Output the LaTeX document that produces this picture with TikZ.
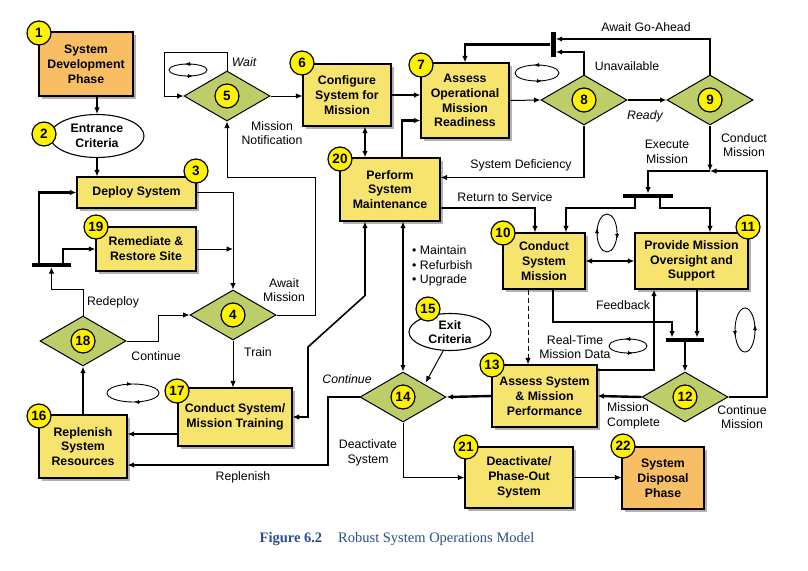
\documentclass[tikz,border=0pt]{standalone}
\usepackage{fontspec}
\setmainfont{Liberation Sans}
\newfontfamily\capfont{Liberation Serif}
\usetikzlibrary{shapes.geometric,arrows.meta,shadows}
\definecolor{boxy}{HTML}{F6E46E}
\definecolor{boxo}{HTML}{F8BE64}
\definecolor{dgreen}{HTML}{BCCD6A}
\definecolor{bdg}{HTML}{FFF200}
\definecolor{capblue}{HTML}{2D4D8E}
\newcommand{\bxfont}{\fontsize{12.3}{14.8}\selectfont\bfseries}
\newcommand{\lbfont}{\fontsize{12.3}{14.5}\selectfont}
\tikzset{
 box/.style={draw, line width=1.1pt, fill=boxy, align=center, font=\bxfont, inner sep=0pt,
   drop shadow={shadow xshift=2.5pt, shadow yshift=-2.5pt, opacity=0.55, fill=black!55}},
 obox/.style={box, fill=boxo},
 dia/.style={diamond, draw, line width=1pt, fill=dgreen, inner sep=0pt, minimum width=86pt, minimum height=50pt},
 crit/.style={ellipse, draw, line width=1.1pt, fill=white, inner sep=0pt},
 badge/.style={circle, draw, line width=1.2pt, fill=bdg, minimum size=24pt, inner sep=0pt, font=\fontsize{13.5}{14}\selectfont\bfseries},
 bar/.style={fill=black, inner sep=0pt},
 lbl/.style={align=center, font=\lbfont, inner sep=0pt},
 tip/.style={-{Latex[length=6.5pt,width=5.5pt]}},
 tk/.style={line width=2.4pt, tip},
 md/.style={line width=1.6pt, tip},
 tn/.style={line width=1pt, tip},
 dbl/.style={arrows={Latex[length=6.5pt,width=5.5pt]}-{Latex[length=6.5pt,width=5.5pt]}},
 icon/.style={line width=0.9pt},
 itip/.style={line width=0.8pt, -{Latex[length=5pt,width=4pt]}},
}
\begin{document}
\begin{tikzpicture}[x=1pt,y=-1pt]
\fill[white] (0,0) rectangle (808,570);
\useasboundingbox (0,0) rectangle (808,570);

% boxes
\node[obox, minimum width=94pt, minimum height=64pt] (b1) at (86,64) {System\\Development\\Phase};
\node[crit, minimum width=94pt, minimum height=43pt] (e2) at (97,136) {};
\node[lbl, font=\bxfont] at (e2) {Entrance\\Criteria};
\node[box, minimum width=119pt, minimum height=31pt] (b3) at (136.5,192.5) {Deploy System};
\node[box, minimum width=100pt, minimum height=44pt] (b19) at (146,249) {Remediate \&\\Restore Site};
\node[box, minimum width=88pt, minimum height=62pt] (b6) at (347,95) {Configure\\System for\\Mission};
\node[box, minimum width=88pt, minimum height=75pt] (b7) at (465,100.5) {Assess\\Operational\\Mission\\Readiness};
\node[box, minimum width=100pt, minimum height=63pt] (b20) at (390,189.5) {Perform\\System\\Maintenance};
\node[box, minimum width=82pt, minimum height=56pt] (b10) at (544,261) {Conduct\\System\\Mission};
\node[box, minimum width=113pt, minimum height=56pt] (b11) at (691.5,261) {Provide Mission\\Oversight and\\Support};
\node[box, minimum width=105pt, minimum height=62pt] (b13) at (544.5,396) {Assess System\\\& Mission\\Performance};
\node[box, minimum width=88pt, minimum height=63pt] (b16) at (83,446.5) {Replenish\\System\\Resources};
\node[box, minimum width=114pt, minimum height=58pt] (b17) at (235,417) {Conduct System/\\Mission Training};
\node[box, minimum width=108pt, minimum height=61pt] (b21) at (519,477.5) {Deactivate/\\Phase-Out\\System};
\node[obox, minimum width=82pt, minimum height=62pt] (b22) at (663,478) {System\\Disposal\\Phase};
\node[crit, minimum width=82pt, minimum height=37pt] (e15) at (450,332) {};
\node[lbl, font=\bxfont] at (e15) {Exit\\Criteria};

% diamonds
\node[dia] (d4) at (233,315) {};
\node[dia] (d5) at (227,96) {};
\node[dia] (d8) at (584,100) {};
\node[dia] (d9) at (710,100) {};
\node[dia] (d12) at (685,397) {};
\node[dia] (d14) at (403,397) {};
\node[dia] (d18) at (83,341) {};

% bars
\node[bar, minimum width=39pt, minimum height=4pt] (barL) at (51.5,265) {};
\node[bar, minimum width=5pt, minimum height=25pt] (barT) at (553,44.5) {};
\node[bar, minimum width=50pt, minimum height=4.5pt] (barF) at (648,196) {};
\node[bar, minimum width=38pt, minimum height=4.5pt] (barJ) at (685,340) {};
\coordinate (jn) at (710,171);

% connectors
\draw[tk] (b1.south -| e2.north) -- (e2.north);
\draw[tk] (e2.south) -- (e2.south |- b3.north);
\draw[tk] ([xshift=7pt]barL.north west) |- (b3.west);
\draw[md] ([xshift=31pt]barL.north west) |- (b19.west);
\draw[tn] (d18.north) -- (83,289) -| (barL.south);
\draw[tn] (b3.east) -| (d4.north);
\draw[tn] (b19.east) -- (b19.east -| d4.north);
\draw[tn] (d4.east) -| (315,177) -| (d5.south);
\draw[tn] (d4.south) -- (d4.south |- b17.north);
\draw[tn] (d5.north) |- (164,52) |- (d5.west);
\draw[tn] (d5.east) -- (d5.east -| b6.west);
\draw[tk] (b6.east) -- (b6.east -| b7.west);
\draw[md, dbl] ([xshift=18pt]b6.south) -- ([xshift=18pt]b6.south |- b20.north);
\draw[tk] ([xshift=12pt]b20.north) |- ([yshift=-20pt]b7.west);
\draw[tn] (b7.east) -- (d8.west);
\draw[tk] (d8.east) -- (d9.west);
\draw[tk] (d8.north) |- ([yshift=-7.5pt]barT.east);
\draw[md] (d9.north) |- ([yshift=5.5pt]barT.east);
\draw[tk] (barT.west) -| (b7.north);
\draw[md] (d8.south) |- ([yshift=12pt]b20.east);
\draw[tk] (d9.south) -- (jn);
\draw[tk] (d12.east) -| (767,171) -- (jn);
\draw[tk] (jn) -| (barF.north);
\draw[tk] ([xshift=-13pt]barF.south) |- (566,208) -- ([xshift=22pt]b10.north);
\draw[tk] ([xshift=12pt]barF.south) |- (710,208) -- ([xshift=18.5pt]b11.north);
\draw[tk] ([yshift=-18.5pt]b20.east) -| ([xshift=-9pt]b10.north);
\draw[md, dbl] (b10.east) -- (b11.west);
\draw[tn, dash pattern=on 5pt off 3pt] ([xshift=-16pt]b10.south) -- ([xshift=-16pt]b10.south |- b13.north);
\draw[tk] ([xshift=9pt]b10.south) |- (672,322) -- ([xshift=-13pt]barJ.north);
\draw[tk] ([xshift=5.5pt]b11.south) -- ([xshift=5.5pt]b11.south |- barJ.north);
\draw[tk] (barJ.south) -- (d12.north);
\draw[tk] ([yshift=26pt]b13.east) -| ([xshift=-37.5pt]b11.south);
\draw[tk] (d12.west) -- (b13.east);
\draw[tk] (b13.west) -- (d14.east);
\draw[tk] (d14.west) -| (328,465) -- ([yshift=-18.5pt]b16.east);
\draw[tn] (d14.south) |- (b21.west);
\draw[tn] (b21.east) -- (b21.east -| b22.west);
\draw[md, dbl] (d14.north |- b20.south) -- (d14.north);
\draw[md, dbl] ([xshift=-25pt]b20.south) -- ++(0,74) -- (308,347) |- (b17.east);
\draw[tn, shorten >=2pt] (e15.250) -- (d14.north east);
\draw[tk] ([yshift=-17pt]b17.west) -- ([yshift=-17pt]b17.west -| b16.east);
\draw[md] (b16.north) -- (d18.south);
\draw[tn] (d18.east) -- (158,341) |- (d4.west);

% loop icons
\draw[icon] (188,70) ellipse [x radius=19pt, y radius=6pt];
\draw[itip] (191,64) -- (185,64); \draw[itip] (187,76) -- (193,76);
\draw[icon] (537,73) ellipse [x radius=22pt, y radius=8pt];
\draw[itip] (540,65) -- (534,65); \draw[itip] (536,81) -- (542,81);
\draw[icon] (133,393) ellipse [x radius=26pt, y radius=9pt];
\draw[itip] (126,384) -- (132,384); \draw[itip] (140,402) -- (134,402);
\draw[icon] (628,346) ellipse [x radius=19pt, y radius=7pt];
\draw[itip] (631,339) -- (625,339); \draw[itip] (627,353) -- (633,353);
\draw[icon] (607,233) ellipse [x radius=10pt, y radius=19pt];
\draw[itip] (597,234) -- (597,228); \draw[itip] (617,233) -- (617,239);
\draw[icon] (745,330) ellipse [x radius=10pt, y radius=22pt];
\draw[itip] (735,330) -- (735,336); \draw[itip] (755,331) -- (755,325);

% badges
\node[badge] (n1) at (39,33) {1};
\node[badge] (n2) at (44,134) {2};
\node[badge] (n3) at (196,171) {3};
\node[badge] (n4) at (d4) {4};
\node[badge] (n5) at (d5) {5};
\node[badge] (n6) at (302,63) {6};
\node[badge] (n7) at (421,65) {7};
\node[badge] (n8) at (d8) {8};
\node[badge] (n9) at (d9) {9};
\node[badge] (n10) at (503,233) {10};
\node[badge] (n11) at (748,227) {11};
\node[badge] (n12) at (d12) {12};
\node[badge] (n13) at (492,365) {13};
\node[badge] (n14) at (d14) {14};
\node[badge] (n15) at (428,309) {15};
\node[badge] (n16) at (39,416) {16};
\node[badge] (n17) at (177,391) {17};
\node[badge] (n18) at (d18) {18};
\node[badge] (n19) at (96,227) {19};
\node[badge] (n20) at (340,159) {20};
\node[badge] (n21) at (466,447) {21};
\node[badge] (n22) at (623,446) {22};

% labels
\node[lbl, font=\lbfont\itshape] (lwait) at (244,62) {Wait};
\node[lbl] (lmn) at (272,133) {Mission\\Notification};
\node[lbl] (lgo) at (646,27) {Await Go-Ahead};
\node[lbl] (lun) at (627,66) {Unavailable};
\node[lbl, font=\lbfont\itshape] (lrd) at (645,116) {Ready};
\node[lbl] (lsd) at (521,165) {System Deficiency};
\node[lbl] (lrs) at (505,197) {Return to Service};
\node[lbl] (lex) at (667,152) {Execute\\Mission};
\node[lbl] (lcm) at (744,145) {Conduct\\Mission};
\node[lbl] (lfb) at (623,305) {Feedback};
\node[lbl] (lrt) at (575,347) {Real-Time\\Mission Data};
\node[lbl, align=left, anchor=west] (lmc) at (607,416) {Mission\\Complete};
\node[lbl] (lcon) at (742,417) {Continue\\Mission};
\node[lbl, align=left, anchor=west] (lbul) at (412,266) {• Maintain\\• Refurbish\\• Upgrade};
\node[lbl, font=\lbfont\itshape] (lcont) at (347,379) {Continue};
\node[lbl] (lds) at (368,453) {Deactivate\\System};
\node[lbl] (lrep) at (243,477) {Replenish};
\node[lbl] (laws) at (284,290) {Await\\Mission};
\node[lbl] (lrdp) at (113,302) {Redeploy};
\node[lbl] (lc18) at (156,356) {Continue};
\node[lbl] (ltr) at (258,352) {Train};

% caption
\node[inner sep=0pt, text=capblue, font=\capfont\fontsize{14.5}{16}\selectfont] (cap) at (397,539) {\textbf{Figure 6.2}\hspace{16pt}Robust System Operations Model};
\end{tikzpicture}
\end{document}
